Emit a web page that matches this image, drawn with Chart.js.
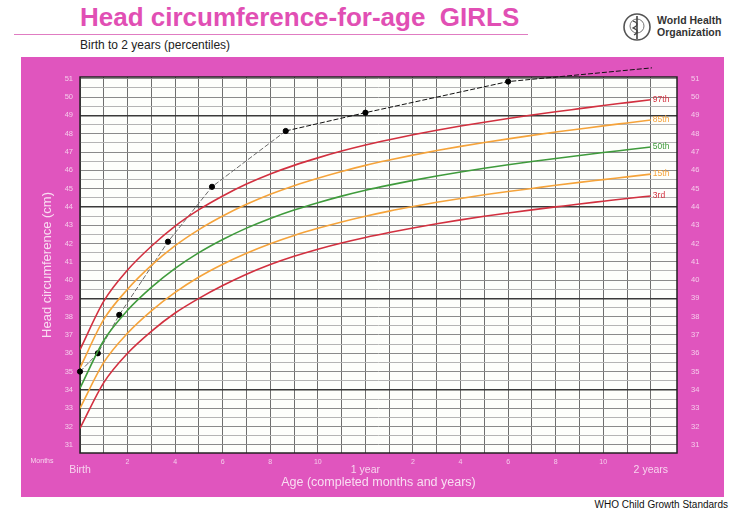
<!DOCTYPE html>
<html>
<head>
<meta charset="utf-8">
<script src="https://cdn.jsdelivr.net/npm/chart.js@4"></script>
<style>
  html, body { margin:0; padding:0; background:#fff; }
  body { width:739px; height:512px; position:relative; overflow:hidden; font-family:"Liberation Sans", Arial, sans-serif; }
  #title { position:absolute; left:80px; top:2px; font-size:26px; font-weight:bold; color:#e14fb4; white-space:pre; }
  #rule { position:absolute; left:14px; top:34px; width:514px; height:1px; background:#e07cc2; }
  #subtitle { position:absolute; left:80px; top:38px; font-size:12px; color:#222; }
  #who { position:absolute; left:622px; top:12px; }
  #whoText { position:absolute; left:657px; top:14px; font-size:10.5px; line-height:12px; color:#333; font-weight:bold; }
  #panel { position:absolute; left:21px; top:57px; width:703px; height:440px; background:#e055be; }
  #footer { position:absolute; right:11px; top:499px; font-size:10px; color:#111; }
  #wrap { position:absolute; left:0; top:0; width:739px; height:512px; }
</style>
</head>
<body>
<div id="title">Head circumference-for-age  GIRLS</div>
<div id="rule"></div>
<div id="subtitle">Birth to 2 years (percentiles)</div>
<svg id="who" width="30" height="30" viewBox="0 0 30 30">
  <circle cx="15" cy="15" r="13" fill="none" stroke="#555" stroke-width="1.6"/>
  <circle cx="15" cy="14" r="7" fill="none" stroke="#777" stroke-width="1"/>
  <line x1="15" y1="4" x2="15" y2="27" stroke="#444" stroke-width="1.6"/>
  <path d="M11 9 Q19 12 11 16 Q19 19 12 23" fill="none" stroke="#444" stroke-width="1.2"/>
</svg>
<div id="whoText">World Health<br>Organization</div>
<div id="panel"></div>
<div id="footer">WHO Child Growth Standards</div>
<div id="wrap"><canvas id="chart"></canvas></div>

<script>
// age in months
const months = [0, 1, 2, 3, 4, 5, 6, 7, 8, 9, 10, 11, 12, 13, 14, 15, 16, 17, 18, 19, 20, 21, 22, 23, 24];
// head circumference percentiles (cm)
const p97 = [36.2, 38.85, 40.55, 41.85, 42.95, 43.85, 44.6, 45.25, 45.8, 46.27, 46.68, 47.05, 47.38, 47.67, 47.94, 48.19, 48.42, 48.63, 48.83, 49.02, 49.2, 49.37, 49.54, 49.7, 49.86];
const p85 = [35.2, 37.85, 39.5, 40.8, 41.88, 42.76, 43.5, 44.14, 44.69, 45.16, 45.57, 45.94, 46.27, 46.56, 46.83, 47.08, 47.31, 47.52, 47.72, 47.91, 48.09, 48.26, 48.43, 48.59, 48.75];
const p50 = [34.1, 36.7, 38.35, 39.6, 40.64, 41.5, 42.22, 42.84, 43.37, 43.83, 44.23, 44.59, 44.91, 45.19, 45.45, 45.69, 45.91, 46.11, 46.3, 46.48, 46.65, 46.81, 46.97, 47.12, 47.27];
const p15 = [33.0, 35.5, 37.1, 38.32, 39.33, 40.17, 40.87, 41.47, 41.99, 42.44, 42.83, 43.18, 43.49, 43.77, 44.02, 44.25, 44.46, 44.66, 44.84, 45.01, 45.18, 45.34, 45.49, 45.64, 45.79];
const p3  = [31.9, 34.4, 36.0, 37.2, 38.2, 39.0, 39.7, 40.32, 40.85, 41.3, 41.69, 42.03, 42.33, 42.6, 42.85, 43.08, 43.29, 43.49, 43.67, 43.84, 44.0, 44.16, 44.31, 44.46, 44.6];
// plotted child
const childAge = [0, 0.75, 1.65, 3.7, 5.55, 8.65, 12, 18, 24.05];
const childHC  = [35.0, 36.0, 38.1, 42.1, 45.1, 48.15, 49.15, 50.85, 51.6];
// axis labels
const yLabels = [31, 32, 33, 34, 35, 36, 37, 38, 39, 40, 41, 42, 43, 44, 45, 46, 47, 48, 49, 50, 51];
const monthLabels = ['', '', '2', '', '4', '', '6', '', '8', '', '10', '', '', '', '2', '', '4', '', '6', '', '8', '', '10', '', ''];
const yearLabels = [[0, 'Birth'], [12, '1 year'], [24, '2 years']];

const RED = '#d2303f', ORANGE = '#f5a33a', GREEN = '#3f9b3c';
const FONT = '"Liberation Sans", Arial, sans-serif';
const curves = [
  { name: '97th', data: p97, color: RED },
  { name: '85th', data: p85, color: ORANGE },
  { name: '50th', data: p50, color: GREEN },
  { name: '15th', data: p15, color: ORANGE },
  { name: '3rd',  data: p3,  color: RED }
];

const pts = (xs, ys) => xs.map((x, i) => ({ x: x, y: ys[i] }));

const datasets = curves.map(c => ({
  label: c.name,
  data: pts(months, c.data),
  borderColor: c.color,
  borderWidth: 1.6,
  pointRadius: 0,
  cubicInterpolationMode: 'monotone'
}));
datasets.push({
  label: 'child',
  data: pts(childAge, childHC),
  borderColor: '#333',
  borderWidth: 1,
  borderDash: [5, 2],
  segment: { borderColor: (s) => s.p0DataIndex < 5 ? '#6a6a6a' : '#111' },
  pointRadius: 2.6,
  pointBackgroundColor: '#000',
  pointBorderColor: '#000',
  tension: 0,
  clip: false
});

// half-cm grid lines, labels only on whole cm
const halfTicks = [];
yLabels.forEach(v => { halfTicks.push(v); if (v < 51) halfTicks.push(v + 0.5); });

const plotDecor = {
  id: 'plotDecor',
  beforeDraw(chart) {
    const a = chart.chartArea, ctx = chart.ctx;
    ctx.save();
    ctx.fillStyle = '#fdfefb';
    ctx.fillRect(a.left, a.top, a.right - a.left, a.bottom - a.top);
    ctx.restore();
  },
  beforeDatasetsDraw(chart) {
    const a = chart.chartArea, ctx = chart.ctx;
    ctx.save();
    ctx.strokeStyle = '#222';
    ctx.lineWidth = 1.5;
    ctx.strokeRect(a.left, a.top, a.right - a.left, a.bottom - a.top);
    ctx.restore();
  },
  afterDatasetsDraw(chart) {
    const ctx = chart.ctx, x = chart.scales.x, y = chart.scales.y;
    ctx.save();
    ctx.font = '8.5px ' + FONT;
    ctx.textBaseline = 'middle';
    ctx.textAlign = 'left';
    curves.forEach(c => {
      ctx.fillStyle = c.color;
      ctx.fillText(c.name, x.getPixelForValue(24) + 2, y.getPixelForValue(c.data[c.data.length - 1]));
    });
    // year markers under the axis
    ctx.fillStyle = 'rgba(255,255,255,0.75)';
    ctx.textAlign = 'center';
    ctx.font = '10.5px ' + FONT;
    yearLabels.forEach(l => ctx.fillText(l[1], x.getPixelForValue(l[0]), chart.chartArea.bottom + 17));
    ctx.font = '7px ' + FONT;
    ctx.fillText('Months', 42, chart.chartArea.bottom + 8);
    ctx.restore();
  }
};

const tickColor = 'rgba(255,255,255,0.7)';

new Chart(document.getElementById('chart'), {
  type: 'line',
  data: { datasets: datasets },
  options: {
    responsive: true,
    maintainAspectRatio: false,
    animation: false,
    layout: { padding: { left: 40, right: 32, top: 77, bottom: 19 } },
    plugins: { legend: { display: false }, tooltip: { enabled: false } },
    scales: {
      x: {
        type: 'linear',
        min: 0,
        max: 25.1,
        afterBuildTicks(s) { s.ticks = months.map(m => ({ value: m })); },
        afterFit(s) { s.height = 40; },
        grid: { color: '#6f6f6f', lineWidth: 1, drawTicks: false },
        border: { display: false },
        ticks: {
          padding: 5,
          color: tickColor,
          font: { size: 7, family: FONT },
          maxRotation: 0,
          autoSkip: false,
          callback: (v) => monthLabels[v]
        },
        title: {
          display: true,
          text: 'Age (completed months and years)',
          color: 'rgba(255,255,255,0.8)',
          font: { size: 12.5, family: FONT },
          padding: { top: 0, bottom: 3 }
        }
      },
      y: {
        type: 'linear',
        position: 'left',
        min: 30.55,
        max: 51.1,
        afterBuildTicks(s) { s.ticks = halfTicks.map(v => ({ value: v })); },
        afterFit(s) { s.width = 40; },
        grid: {
          drawTicks: false,
          color: (c) => {
            const v = c.tick ? c.tick.value : 0;
            if ((v - 34) % 5 === 0) return '#3a3a3a';
            return Number.isInteger(v) ? '#8a8a8a' : '#b4b4b4';
          },
          lineWidth: (c) => {
            const v = c.tick ? c.tick.value : 0;
            return (v - 34) % 5 === 0 ? 1.4 : 1;
          }
        },
        border: { display: false },
        ticks: {
          padding: 7,
          color: tickColor,
          font: { size: 7.5, family: FONT },
          autoSkip: false,
          callback: (v) => Number.isInteger(v) ? String(v) : ''
        },
        title: {
          display: true,
          text: 'Head circumference (cm)',
          color: 'rgba(255,255,255,0.8)',
          font: { size: 13, family: FONT },
          padding: { top: 0, bottom: 0 }
        }
      },
      y2: {
        type: 'linear',
        position: 'right',
        min: 30.55,
        max: 51.1,
        afterBuildTicks(s) { s.ticks = yLabels.map(v => ({ value: v })); },
        afterFit(s) { s.width = 30; },
        grid: { display: false },
        border: { display: false },
        ticks: {
          padding: 6,
          color: tickColor,
          font: { size: 7.5, family: FONT },
          autoSkip: false
        }
      }
    }
  },
  plugins: [plotDecor]
});
</script>
</body>
</html>
